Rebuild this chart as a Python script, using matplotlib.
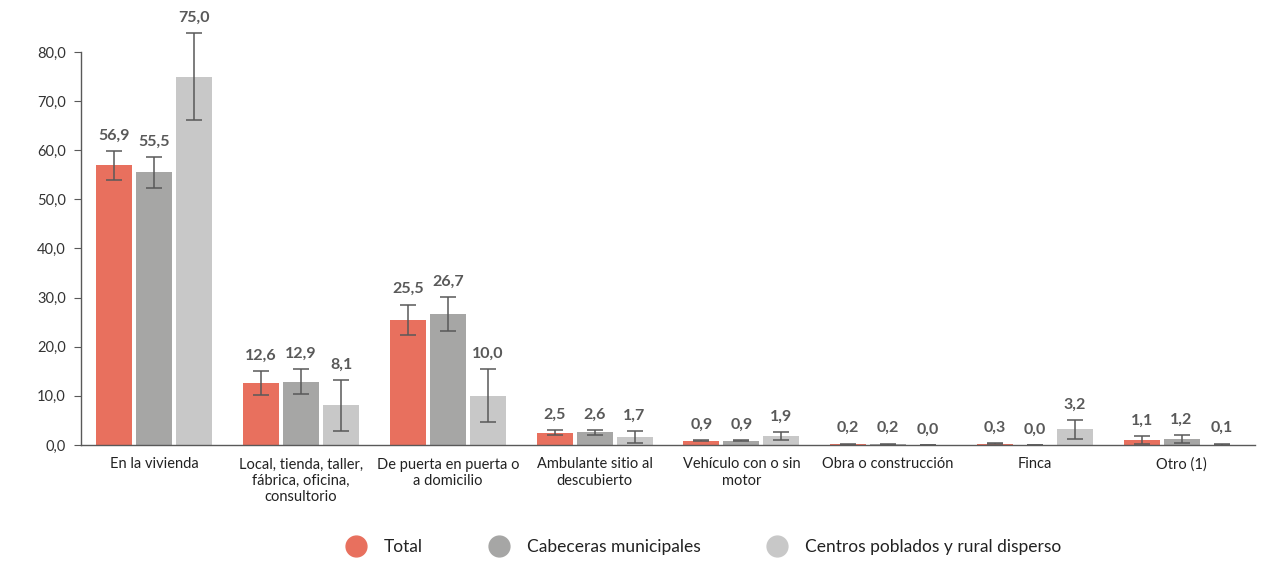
import numpy as np
import matplotlib
matplotlib.use("Agg")
import matplotlib.pyplot as plt
from matplotlib.lines import Line2D

plt.rcParams['font.family'] = ['Lato', 'DejaVu Sans']

categories = [
    "En la vivienda",
    "Local, tienda, taller,\nfábrica, oficina,\nconsultorio",
    "De puerta en puerta o\na domicilio",
    "Ambulante sitio al\ndescubierto",
    "Vehículo con o sin\nmotor",
    "Obra o construcción",
    "Finca",
    "Otro (1)",
]
series_names = ["Total", "Cabeceras municipales", "Centros poblados y rural disperso"]

total = [56.9, 12.6, 25.5, 2.5, 0.9, 0.2, 0.3, 1.1]
cabeceras = [55.5, 12.9, 26.7, 2.6, 0.9, 0.2, 0.0, 1.2]
centros = [75.0, 8.1, 10.0, 1.7, 1.9, 0.0, 3.2, 0.1]

total_err = [2.9, 2.5, 3.1, 0.5, 0.1, 0.1, 0.1, 0.8]
cabeceras_err = [3.1, 2.6, 3.4, 0.5, 0.15, 0.1, 0.05, 0.8]
centros_err = [8.8, 5.2, 5.4, 1.2, 0.8, 0.05, 1.9, 0.2]

colors = ["#E8705E", "#A6A6A5", "#C8C8C8"]
text_grey = "#595959"

fig = plt.figure(figsize=(12.65, 5.62), dpi=100)
ax = fig.add_axes([81 / 1265, 117 / 562, 1174 / 1265, 393 / 562])

x = np.arange(len(categories))
offset = 0.272
width = 0.245
values = [total, cabeceras, centros]
errors = [total_err, cabeceras_err, centros_err]

for i, (vals, errs, col) in enumerate(zip(values, errors, colors)):
    pos = x + (i - 1) * offset
    ax.bar(pos, vals, width=width, color=col, zorder=2)
    ax.errorbar(pos, vals, yerr=errs, fmt="none", ecolor=text_grey,
                elinewidth=1.1, capsize=6, capthick=1.1, zorder=3, clip_on=False)
    for p, v, e in zip(pos, vals, errs):
        ax.annotate(f"{v:.1f}".replace(".", ","), (p, v + e), xytext=(0, 6),
                    textcoords="offset points", ha="center", va="bottom",
                    fontsize=11.5, fontweight="bold", color=text_grey,
                    annotation_clip=False)

ax.set_xlim(-0.5, len(categories) - 0.5)
ax.set_ylim(0, 80)
ax.set_yticks(np.arange(0, 81, 10))
ax.set_yticklabels([f"{t:.1f}".replace(".", ",") for t in np.arange(0, 81, 10)],
                   fontsize=10.5, color="#333333")
ax.set_xticks(x)
ax.set_xticklabels(categories, fontsize=10.5, color="#222222", va="top")
ax.tick_params(axis="x", length=0, pad=9)
ax.tick_params(axis="y", length=5, color=text_grey, pad=6)

for s in ["top", "right"]:
    ax.spines[s].set_visible(False)
for s in ["left", "bottom"]:
    ax.spines[s].set_color(text_grey)
    ax.spines[s].set_linewidth(1.0)

handles = [Line2D([0], [0], marker="o", linestyle="none", markersize=15,
                  markerfacecolor=c, markeredgecolor=c) for c in colors]
fig.legend(handles, series_names, loc="center", bbox_to_anchor=(700 / 1265, 1 - 547 / 562),
           ncol=3, frameon=False, fontsize=12.5, columnspacing=3.4, handletextpad=0.6,
           labelcolor="#222222")

fig.savefig("out.png", dpi=100)
